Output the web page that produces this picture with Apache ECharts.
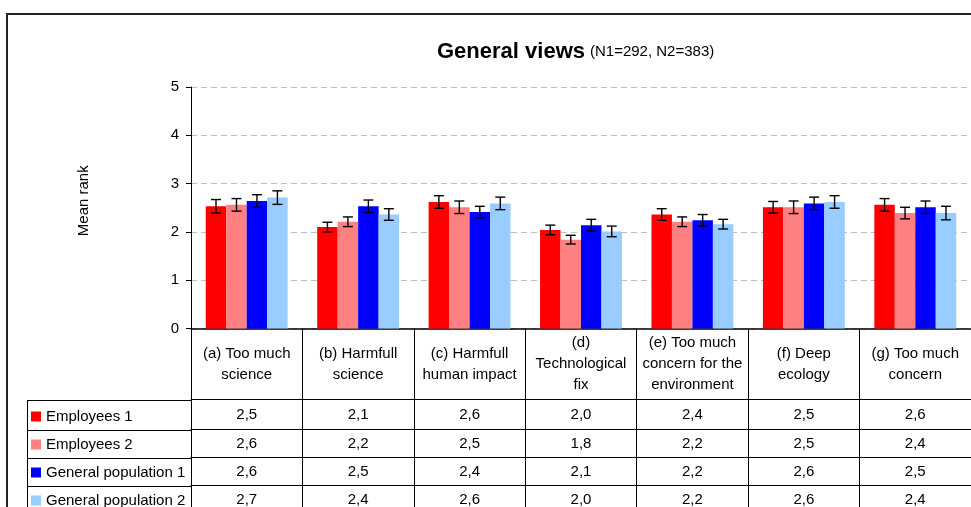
<!DOCTYPE html>
<html>
<head>
<meta charset="utf-8">
<title>General views</title>
<script src="https://cdn.jsdelivr.net/npm/echarts@6/dist/echarts.min.js"></script>
<style>
  html, body { margin: 0; padding: 0; background: #fff; }
  #chart { width: 971px; height: 507px; }
</style>
</head>
<body>
<div id="chart"></div>
<script>
// data
const categories = [
  '(a) Too much\nscience',
  '(b) Harmfull\nscience',
  '(c) Harmfull\nhuman impact',
  '(d)\nTechnological\nfix',
  '(e) Too much\nconcern for the\nenvironment',
  '(f) Deep\necology',
  '(g) Too much\nconcern'
]
const seriesNames = ['Employees 1', 'Employees 2', 'General population 1', 'General population 2']
const colors = ['#ff0000', '#ff8080', '#0000ff', '#99ccff']

const employees1 = [2.53, 2.10, 2.62, 2.04, 2.36, 2.51, 2.56]
const employees2 = [2.56, 2.21, 2.51, 1.84, 2.21, 2.51, 2.39]
const general1 = [2.64, 2.53, 2.41, 2.14, 2.24, 2.59, 2.51]
const general2 = [2.71, 2.36, 2.59, 2.01, 2.16, 2.62, 2.39]

const errEmployees1 = [0.14, 0.10, 0.13, 0.10, 0.12, 0.12, 0.13]
const errEmployees2 = [0.13, 0.10, 0.13, 0.09, 0.10, 0.13, 0.12]
const errGeneral1 = [0.13, 0.13, 0.12, 0.12, 0.12, 0.13, 0.13]
const errGeneral2 = [0.14, 0.12, 0.13, 0.11, 0.10, 0.13, 0.14]

// values as printed in the data table
const tableEmployees1 = ['2,5', '2,1', '2,6', '2,0', '2,4', '2,5', '2,6']
const tableEmployees2 = ['2,6', '2,2', '2,5', '1,8', '2,2', '2,5', '2,4']
const tableGeneral1 = ['2,6', '2,5', '2,4', '2,1', '2,2', '2,6', '2,5']
const tableGeneral2 = ['2,7', '2,4', '2,6', '2,0', '2,2', '2,6', '2,4']

const yTicks = [0, 1, 2, 3, 4, 5]

const allValues = [employees1, employees2, general1, general2]
const allErrors = [errEmployees1, errEmployees2, errGeneral1, errGeneral2]
const allTable = [tableEmployees1, tableEmployees2, tableGeneral1, tableGeneral2]

// layout
const FONT = '"Liberation Sans", Arial, sans-serif'
const GRID_LEFT = 191
const GRID_TOP = 87
const GRID_BOTTOM = 178
const CAT_GAP = 0.265
const HEADER_H = 71
const ROW_H = [30, 28, 28, 28]
const AXIS_Y = 507 - GRID_BOTTOM

let rowOffsets = []
let acc = HEADER_H
ROW_H.forEach(h => { rowOffsets.push(acc); acc += h })

const chart = echarts.init(document.getElementById('chart'))

const barSeries = allValues.map((vals, k) => ({
  name: seriesNames[k],
  type: 'bar',
  data: vals,
  barGap: 0,
  barCategoryGap: (CAT_GAP * 100) + '%',
  itemStyle: {color: colors[k]},
  emphasis: {disabled: true}
}))

const errorSeries = allValues.map((vals, k) => ({
  type: 'custom',
  z: 10,
  silent: true,
  data: vals.map((v, i) => [i, v - allErrors[k][i], v + allErrors[k][i]]),
  encode: {x: 0, y: [1, 2]},
  renderItem: function (params, api) {
    const i = api.value(0)
    const lo = api.coord([i, api.value(1)])
    const hi = api.coord([i, api.value(2)])
    const band = api.size([1, 0])[0]
    const barW = band * (1 - CAT_GAP) / 4
    const x = lo[0] + (k - 1.5) * barW
    const cap = 5
    const style = {stroke: '#000', lineWidth: 1.4}
    return {
      type: 'group',
      children: [
        {type: 'line', shape: {x1: x, y1: lo[1], x2: x, y2: hi[1]}, style: style},
        {type: 'line', shape: {x1: x - cap, y1: lo[1], x2: x + cap, y2: lo[1]}, style: style},
        {type: 'line', shape: {x1: x - cap, y1: hi[1], x2: x + cap, y2: hi[1]}, style: style}
      ]
    }
  }
}))

// one extra x axis per table row: its line, ticks and labels draw the cells
const rowAxes = allTable.map((row, r) => ({
  type: 'category',
  data: categories,
  position: 'bottom',
  offset: rowOffsets[r],
  axisLine: {onZero: false, lineStyle: {color: '#000', width: 1}},
  axisTick: {show: true, interval: 0, length: ROW_H[r], lineStyle: {color: '#000', width: 1}},
  axisLabel: {
    interval: 0,
    formatter: (v, i) => row[i],
    margin: ROW_H[r] / 2,
    verticalAlign: 'middle',
    color: '#000',
    fontSize: 15,
    fontFamily: FONT
  },
  splitLine: {show: false}
}))

// frame of the legend column on the left of the table
const frameLines = []
const tableTop = AXIS_Y + HEADER_H
frameLines.push({type: 'line', shape: {x1: 27.5, y1: tableTop, x2: 27.5, y2: 520}, style: {stroke: '#000', lineWidth: 1}})
rowOffsets.forEach(off => {
  frameLines.push({type: 'line', shape: {x1: 27.5, y1: AXIS_Y + off + 0.5, x2: GRID_LEFT, y2: AXIS_Y + off + 0.5}, style: {stroke: '#000', lineWidth: 1}})
})

const option = {
  animation: false,
  textStyle: {fontFamily: FONT},
  title: {
    text: '{a|General views} {b|(N1=292, N2=383)}',
    left: 437,
    top: 41,
    padding: 0,
    textStyle: {
      rich: {
        a: {fontSize: 22, fontWeight: 'bold', color: '#000', fontFamily: FONT},
        b: {fontSize: 15, fontWeight: 'normal', color: '#000', fontFamily: FONT}
      }
    }
  },
  legend: {
    data: seriesNames,
    orient: 'vertical',
    left: 31,
    top: 409,
    height: 160,
    padding: 0,
    itemWidth: 10,
    itemHeight: 10,
    itemGap: 13,
    icon: 'rect',
    selectedMode: false,
    textStyle: {fontSize: 15, color: '#000', fontFamily: FONT}
  },
  grid: {
    left: GRID_LEFT,
    right: -10,
    top: GRID_TOP,
    bottom: GRID_BOTTOM,
    containLabel: false
  },
  xAxis: [{
    type: 'category',
    data: categories,
    position: 'bottom',
    axisLine: {lineStyle: {color: '#000', width: 1.5}},
    axisTick: {show: true, interval: 0, length: HEADER_H, lineStyle: {color: '#000', width: 1}},
    axisLabel: {
      interval: 0,
      margin: HEADER_H / 2,
      verticalAlign: 'middle',
      lineHeight: 21,
      color: '#000',
      fontSize: 15,
      fontFamily: FONT
    },
    splitLine: {show: false}
  }].concat(rowAxes),
  yAxis: {
    type: 'value',
    min: yTicks[0],
    max: yTicks[yTicks.length - 1],
    interval: 1,
    name: 'Mean rank',
    nameLocation: 'middle',
    nameRotate: 90,
    nameGap: 100,
    nameTextStyle: {fontSize: 15, color: '#000', fontFamily: FONT, padding: [0, 0, 0, 14]},
    axisLine: {show: true, lineStyle: {color: '#000', width: 1}},
    axisTick: {show: true, length: 5, lineStyle: {color: '#000'}},
    axisLabel: {margin: 12, color: '#000', fontSize: 15, fontFamily: FONT},
    splitLine: {lineStyle: {color: '#c0c0c0', type: [6, 4], width: 1}}
  },
  graphic: [
    {type: 'rect', z: -10, shape: {x: 7, y: 14, width: 1100, height: 700}, style: {fill: 'none', stroke: '#222', lineWidth: 2}},
    {type: 'group', children: frameLines}
  ],
  series: barSeries.concat(errorSeries)
}

chart.setOption(option)
</script>
</body>
</html>
